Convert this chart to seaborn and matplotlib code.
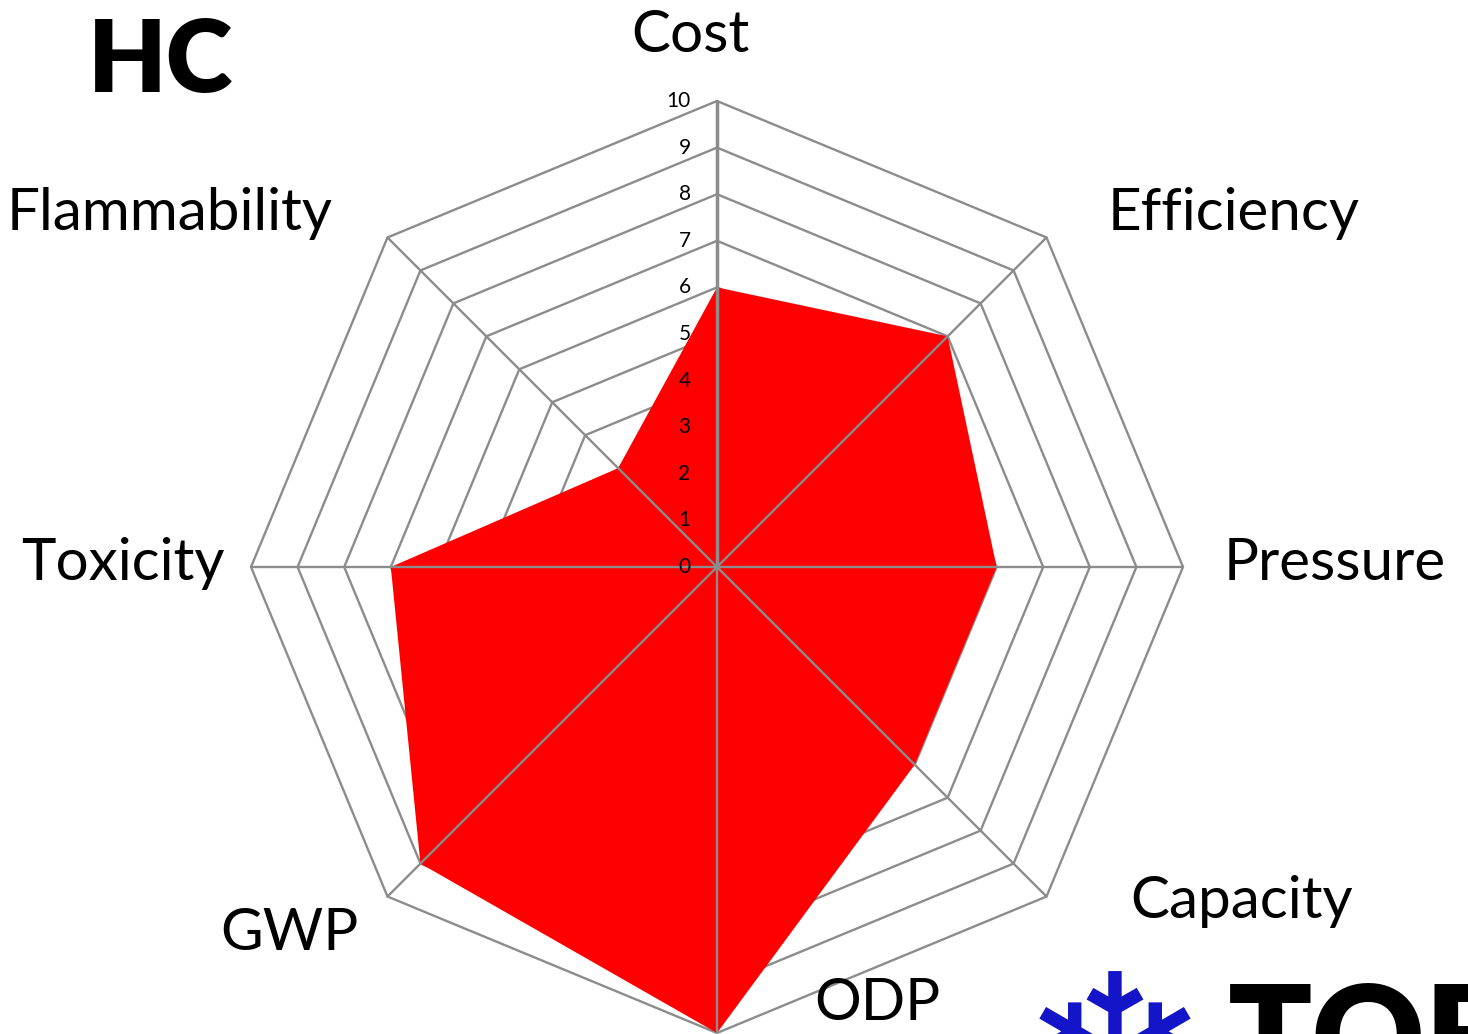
# Radar chart of HC refrigerant properties
import numpy as np
import matplotlib
matplotlib.use("Agg")
import matplotlib.pyplot as plt
import seaborn as sns

# data, clockwise from the top
categories = ["Cost", "Efficiency", "Pressure", "Capacity",
              "ODP", "GWP", "Toxicity", "Flammability"]
values = [6, 7, 6, 6, 10, 9, 7, 3]
ring_levels = list(range(0, 11))

sns.set_theme(style="white")
plt.rcParams["font.family"] = ["Lato", "DejaVu Sans"]

W, H = 1468, 1034
fig = plt.figure(figsize=(W / 100, H / 100), dpi=100)
fig.patch.set_facecolor("white")

# polar axes: centre at (717, 567) px, outer ring radius 466 px
cx, cy, rad = 717, 567, 466
ax = fig.add_axes([(cx - rad) / W, (H - cy - rad) / H, 2 * rad / W, 2 * rad / H],
                  projection="polar")
ax.set_theta_zero_location("N")
ax.set_theta_direction(-1)
ax.set_ylim(0, 10)
ax.grid(False)
ax.set_xticks([])
ax.set_yticks([])
ax.spines["polar"].set_visible(False)
ax.set_facecolor("none")

n = len(categories)
angles = np.linspace(0, 2 * np.pi, n, endpoint=False)
closed = np.append(angles, angles[0])
grid_col = "#8c8c8c"

# octagon rings under the fill
for r in ring_levels[1:]:
    ax.plot(closed, [r] * (n + 1), color=grid_col, lw=1.7, zorder=1, clip_on=False)

# filled series
ax.fill(closed, values + [values[0]], color="#ff0000", lw=0, zorder=2)

# spokes on top of the fill
for i, a in enumerate(angles):
    ax.plot([a, a], [0, 10], color=grid_col, lw=2.5 if i == 0 else 1.7,
            zorder=3, clip_on=False)

# value labels along the Cost axis
for r in ring_levels:
    ax.annotate(str(r), xy=(0, r), xytext=(-19, 0), textcoords="offset points",
                ha="right", va="center", fontsize=15, color="black", zorder=4,
                annotation_clip=False)

# category labels (pixel anchors: centre x, baseline y)
label_pos = [(690, 52), (1234, 230), (1335, 580), (1242, 918),
             (877, 1020), (289, 950), (123, 580), (170, 230)]
for name, (px, py) in zip(categories, label_pos):
    fig.text(px / W, 1 - py / H, name, ha="center", va="baseline",
             fontsize=42, color="black")

# title
fig.text(88 / W, 1 - 92 / H, "HC", ha="left", va="baseline",
         fontsize=73, fontweight="heavy", color="black")

# partial logo at the bottom right (cut by the figure edge, as in the source)
fig.text(1115 / W, 1 - 1075 / H, "\u2744", ha="center", va="center",
         fontsize=165, fontweight="bold", color="#1414c8", family=["DejaVu Sans"])
fig.text(1228 / W, 1 - 1085 / H, "TOE", ha="left", va="baseline",
         fontsize=100, fontweight="heavy", color="black")

fig.savefig("out.png", dpi=100)
